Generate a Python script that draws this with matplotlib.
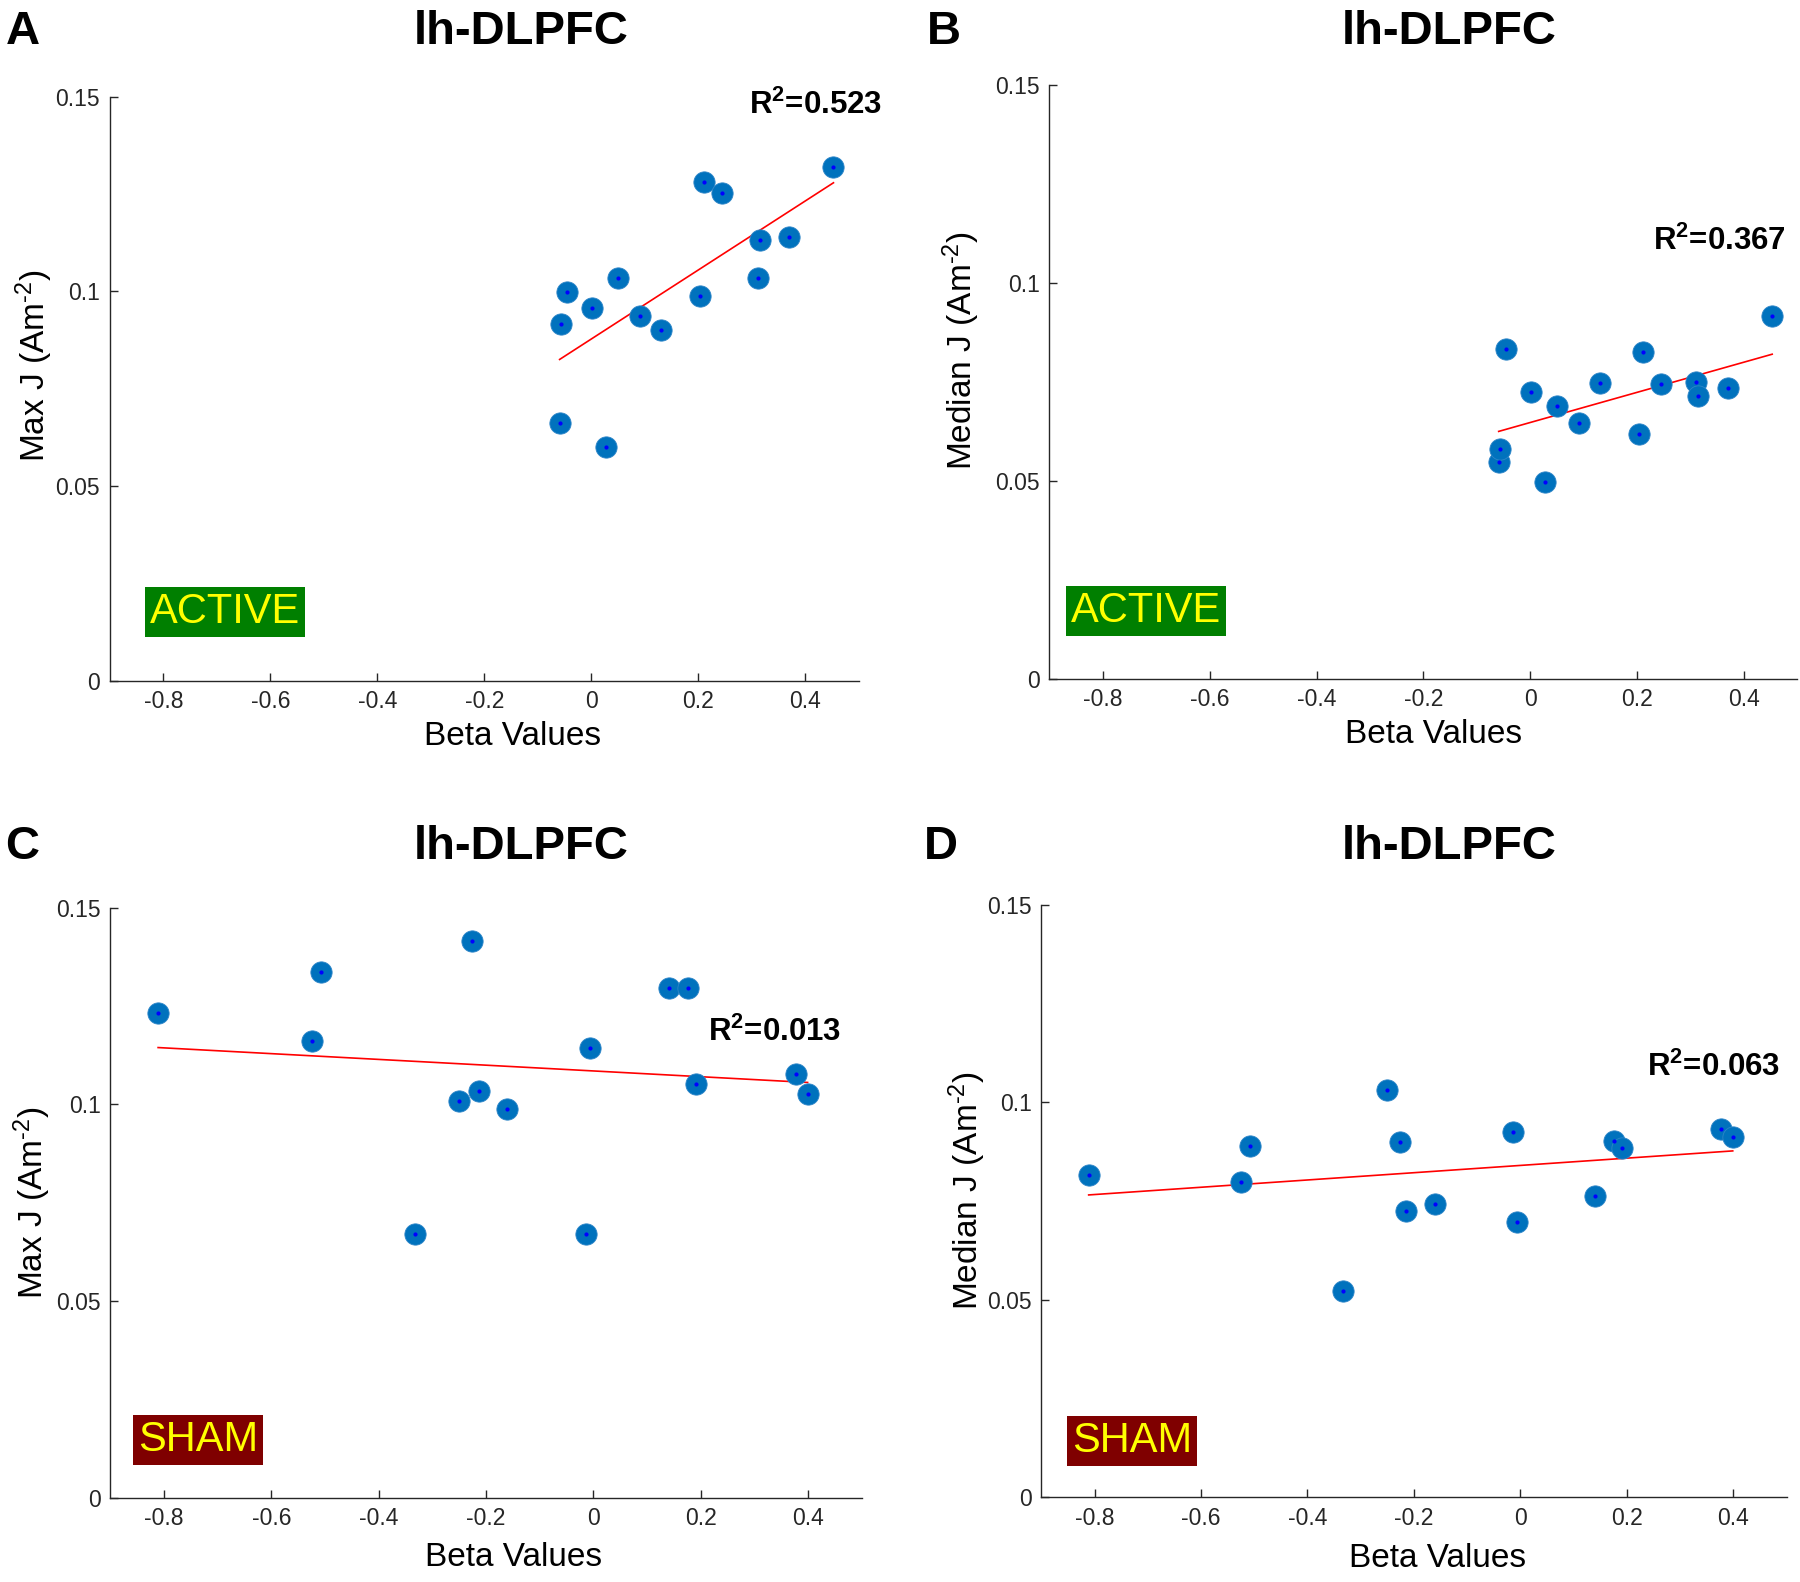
import matplotlib.pyplot as plt
import numpy as np

plt.rcParams['font.family'] = ['Liberation Sans', 'DejaVu Sans']
plt.rcParams['mathtext.fontset'] = 'custom'
plt.rcParams['mathtext.rm'] = 'Liberation Sans'
plt.rcParams['mathtext.it'] = 'Liberation Sans:italic'
plt.rcParams['mathtext.bf'] = 'Liberation Sans:bold'

# ACTIVE group (panels A, B)
beta_active = [-0.059, -0.056, -0.046, 0.001, 0.027, 0.050, 0.092, 0.131,
               0.204, 0.211, 0.244, 0.311, 0.315, 0.370, 0.453]
maxj_active = [0.0662, 0.0917, 0.0997, 0.0957, 0.0601, 0.1035, 0.0937, 0.0900,
               0.0987, 0.1280, 0.1251, 0.1035, 0.1131, 0.1140, 0.1319]
medj_active = [0.0547, 0.0580, 0.0832, 0.0724, 0.0496, 0.0689, 0.0645, 0.0747,
               0.0618, 0.0824, 0.0745, 0.0749, 0.0715, 0.0733, 0.0917]

# SHAM group (panels C, D)
beta_sham = [-0.811, -0.524, -0.508, -0.333, -0.250, -0.227, -0.214, -0.161,
             -0.014, -0.007, 0.141, 0.176, 0.191, 0.377, 0.399]
maxj_sham = [0.1231, 0.1161, 0.1335, 0.0670, 0.1007, 0.1414, 0.1034, 0.0989,
             0.0670, 0.1144, 0.1295, 0.1295, 0.1051, 0.1078, 0.1025]
medj_sham = [0.0816, 0.0798, 0.0890, 0.0523, 0.1030, 0.0899, 0.0725, 0.0742,
             0.0925, 0.0697, 0.0763, 0.0901, 0.0885, 0.0932, 0.0912]

r2_labels = ['0.523', '0.367', '0.013', '0.063']
letters = ['A', 'B', 'C', 'D']
title = 'lh-DLPFC'
xticks = [-0.8, -0.6, -0.4, -0.2, 0, 0.2, 0.4]
xtick_labels = ['-0.8', '-0.6', '-0.4', '-0.2', '0', '0.2', '0.4']
yticks = [0, 0.05, 0.1, 0.15]
ytick_labels = ['0', '0.05', '0.1', '0.15']

fig = plt.figure(figsize=(18, 15.82), dpi=100)

panels = [
    # rect, x, y, ylabel, group, ylabel pos, xlabel pos, r2 pos, group label pos
    ([0.0610, 0.5697, 0.4160, 0.3693], beta_active, maxj_active, 'Max J (Am$^{\\text{-2}}$)', 'ACTIVE',
     (-0.101, 0.54), (0.538, -0.095), (0.296, 0.1477), (-0.825, 0.0177)),
    ([0.5830, 0.5711, 0.4155, 0.3752], beta_active, medj_active, 'Median J (Am$^{\\text{-2}}$)', 'ACTIVE',
     (-0.118, 0.553), (0.513, -0.095), (0.229, 0.1106), (-0.860, 0.0171)),
    ([0.0613, 0.0534, 0.4175, 0.3729], beta_sham, maxj_sham, 'Max J (Am$^{\\text{-2}}$)', 'SHAM',
     (-0.104, 0.50), (0.536, -0.102), (0.213, 0.1183), (-0.849, 0.0145)),
    ([0.5785, 0.0537, 0.4140, 0.3743], beta_sham, medj_sham, 'Median J (Am$^{\\text{-2}}$)', 'SHAM',
     (-0.100, 0.518), (0.532, -0.1045), (0.238, 0.1089), (-0.843, 0.0142)),
]

box_colors = {'ACTIVE': '#007f00', 'SHAM': '#7f0000'}

for i, (rect, x, y, ylab, grp, ylpos, xlpos, r2pos, gpos) in enumerate(panels):
    ax = fig.add_axes(rect)
    x = np.array(x)
    y = np.array(y)
    ax.scatter(x, y, s=235, color='#0072BD', edgecolor='#2f86c8', linewidth=0.6, zorder=3)
    ax.scatter(x, y, s=4, color='#0000ff', zorder=4)
    p = np.polyfit(x, y, 1)
    xs = np.array([x.min(), x.max()])
    ax.plot(xs, np.polyval(p, xs), color='red', lw=1.2, zorder=2)

    ax.set_xlim(-0.9, 0.5)
    ax.set_ylim(0, 0.15)
    ax.set_xticks(xticks)
    ax.set_xticklabels(xtick_labels)
    ax.set_yticks(yticks)
    ax.set_yticklabels(ytick_labels)
    ax.tick_params(direction='in', length=6, width=1, labelsize=16.5, colors='#262626', pad=7)
    for s in ['top', 'right']:
        ax.spines[s].set_visible(False)
    for s in ['left', 'bottom']:
        ax.spines[s].set_color('#262626')
        ax.spines[s].set_linewidth(1.0)

    ax.set_ylabel(ylab, fontsize=24, color='#000000')
    ax.yaxis.set_label_coords(*ylpos)
    ax.yaxis.label.set_va('center')
    ax.set_xlabel('Beta Values', fontsize=24)
    ax.xaxis.set_label_coords(*xlpos)
    ax.xaxis.label.set_va('center')

    ax.text(r2pos[0], r2pos[1], 'R$^{\\mathbf{2}}$=' + r2_labels[i], fontsize=22.5, fontweight='bold',
            ha='left', va='center')
    ax.text(gpos[0], gpos[1], grp, fontsize=30, color='#ffff00', ha='left', va='center',
            bbox=dict(facecolor=box_colors[grp], edgecolor='none', pad=3.5))

# titles and panel letters
title_pos = [(0.2894, 0.9798), (0.805, 0.9798), (0.2894, 0.4646), (0.805, 0.4646)]
letter_pos = [(0.0125, 0.9798), (0.5245, 0.9798), (0.0122, 0.4646), (0.5225, 0.4646)]
for i in range(4):
    fig.text(title_pos[i][0], title_pos[i][1], title, fontsize=34, fontweight='bold',
             ha='center', va='center')
    fig.text(letter_pos[i][0], letter_pos[i][1], letters[i], fontsize=34, fontweight='bold',
             ha='center', va='center')

fig.savefig('out.png', dpi=100, facecolor='white')
